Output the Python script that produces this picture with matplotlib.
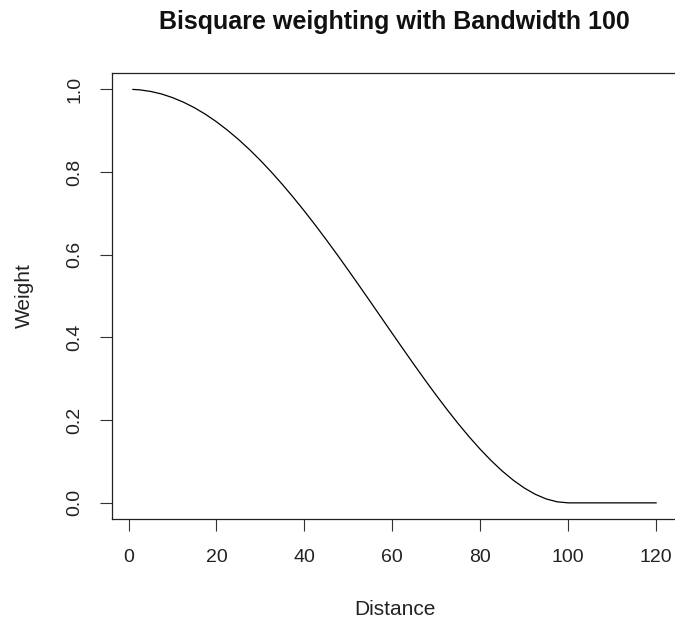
"""Bisquare kernel weight against distance, bandwidth 100."""
import matplotlib
matplotlib.use("Agg")
import matplotlib.pyplot as plt

# weights, every 2.5 distance units
DISTANCE = [1, 2.5, 5, 7.5, 10, 12.5, 15, 17.5, 20, 22.5, 25, 27.5, 30, 32.5, 35,
            37.5, 40, 42.5, 45, 47.5, 50, 52.5, 55, 57.5, 60, 62.5, 65, 67.5, 70,
            72.5, 75, 77.5, 80, 82.5, 85, 87.5, 90, 92.5, 95, 97.5, 100, 105, 110,
            115, 120]
WEIGHT = [0.9998, 0.9988, 0.995, 0.9888, 0.980, 0.9689, 0.9555, 0.9397, 0.9216,
          0.9012, 0.8789, 0.8545, 0.8281, 0.7999, 0.770, 0.7385, 0.7056, 0.6714,
          0.636, 0.5997, 0.5625, 0.5247, 0.4865, 0.4480, 0.4096, 0.3713, 0.3335,
          0.2963, 0.2601, 0.2250, 0.1914, 0.1595, 0.1296, 0.1020, 0.077, 0.0549,
          0.0361, 0.0208, 0.0095, 0.0025, 0.0, 0.0, 0.0, 0.0, 0.0]
X_TICKS = [0, 20, 40, 60, 80, 100, 120]
Y_TICKS = [0.0, 0.2, 0.4, 0.6, 0.8, 1.0]

plt.rcParams["font.family"] = ["Liberation Sans", "DejaVu Sans"]
W, H = 675, 619
fig = plt.figure(figsize=(W / 100, H / 100), dpi=100)
ax = fig.add_axes([112 / W, 1 - 519.4 / H, 565 / W, 446.6 / H])

ax.plot(DISTANCE, WEIGHT, color="black", lw=0.9)
span = DISTANCE[-1] - DISTANCE[0]
ax.set_xlim(DISTANCE[0] - 0.04 * span, DISTANCE[-1] + 0.04 * span)
ax.set_ylim(-0.04, 1.04)
ax.set_xticks(X_TICKS)
ax.set_yticks(Y_TICKS)
ax.set_xticklabels([str(t) for t in X_TICKS])
ax.set_yticklabels([f"{t:.1f}" for t in Y_TICKS], rotation=90, va="center")
ax.tick_params(direction="out", length=8.5, width=0.8, color="#333333",
               labelsize=14, labelcolor="#222222")
ax.tick_params(axis="x", pad=13)
ax.tick_params(axis="y", pad=12)
for s in ax.spines.values():
    s.set_linewidth(0.9)
    s.set_color("#222222")

cx = (112 + 677) / 2 / W
fig.text(cx, 1 - 29 / H, "Bisquare weighting with Bandwidth 100", ha="center", va="baseline",
         fontsize=18, fontweight="bold", color="#111111")
fig.text(cx, 1 - 615 / H, "Distance", ha="center", va="baseline", fontsize=15, color="#222222")
fig.text(24 / W, 1 - 296 / H, "Weight", ha="center", va="center", rotation=90,
         fontsize=15, color="#222222")

fig.savefig("out.png", dpi=100)
